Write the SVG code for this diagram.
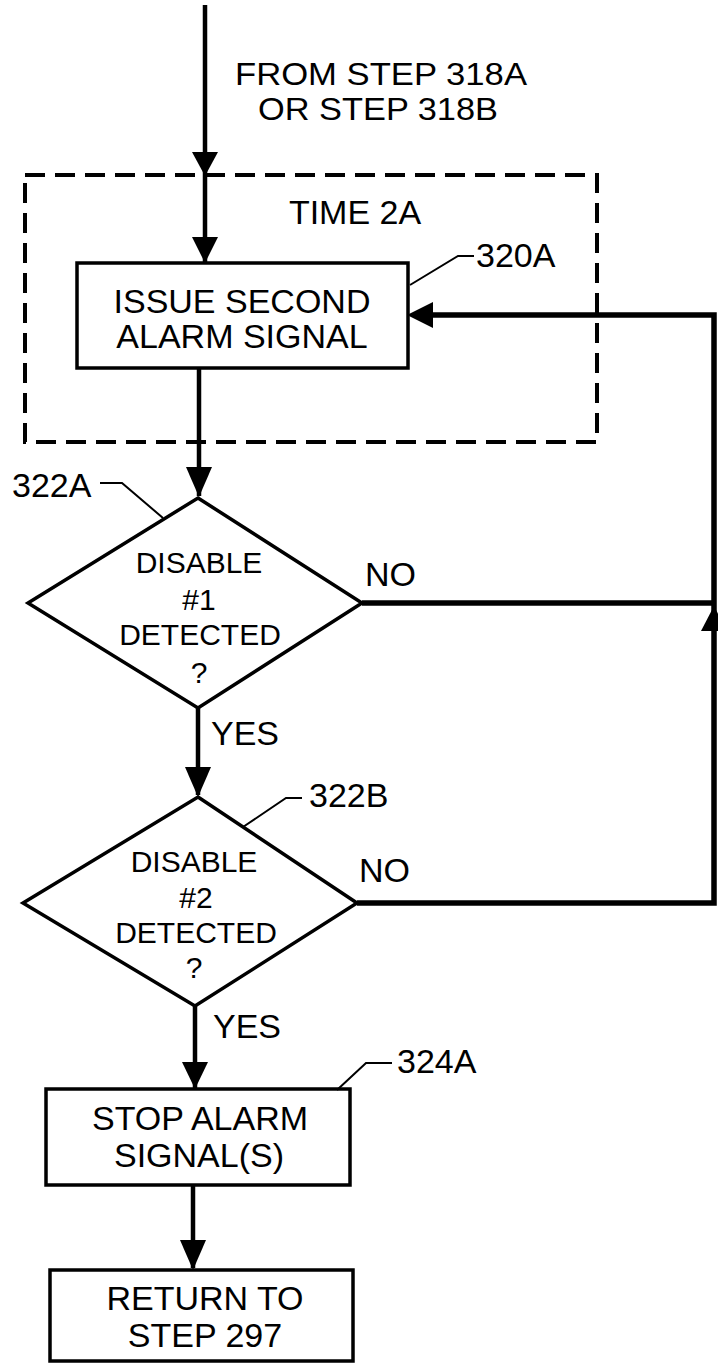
<svg xmlns="http://www.w3.org/2000/svg" width="718" height="1364" viewBox="0 0 718 1364">
<style>
text{font-family:"Liberation Sans",Arial,sans-serif;font-size:34px;fill:#000}
.c{text-anchor:middle}
.f{font-size:31px;text-anchor:middle}
.d{font-size:30px;text-anchor:middle}
.box{fill:#fff;stroke:#000;stroke-width:3.5}
.ln{fill:none;stroke:#000;stroke-width:4.5}
.fb{fill:none;stroke:#000;stroke-width:5.5}
.ld{fill:none;stroke:#000;stroke-width:2}
.ah{fill:#000;stroke:none}
.dash{fill:none;stroke:#000;stroke-width:4;stroke-dasharray:20 10}
</style>
<rect width="718" height="1364" fill="#fff"/>
<g id="group-time2a">
<rect class="dash" x="25" y="175" width="572" height="267"/>
<text class="c" x="355" y="224">TIME 2A</text>
</g>
<g id="connectors">
<path class="ln" d="M205 5 V262"/>
<polygon class="ah" points="192,152 218,152 205,176"/>
<polygon class="ah" points="192,237 218,237 205,263"/>
<path class="ln" d="M199 368 V496"/>
<polygon class="ah" points="186,467 212,467 199,497"/>
<path class="ln" d="M198 708 V795"/>
<polygon class="ah" points="185,767 211,767 198,797"/>
<path class="ln" d="M195 1006 V1088"/>
<polygon class="ah" points="182,1062 208,1062 195,1089"/>
<path class="ln" d="M193 1185 V1268"/>
<polygon class="ah" points="180,1240 206,1240 193,1270"/>
<path class="fb" d="M362 603 H714"/>
<path class="fb" d="M357 903 H714 V315 H420"/>
<polygon class="ah" points="407,315 433,302 433,328"/>
<polygon class="ah" points="714,606 701,631 727,631"/>
<text x="365" y="586">NO</text>
<text x="211" y="745">YES</text>
<text x="359" y="882">NO</text>
<text x="213" y="1038">YES</text>
</g>
<g id="label-from">
<text class="f" x="381" y="85" textLength="292" lengthAdjust="spacingAndGlyphs">FROM STEP 318A</text>
<text class="f" x="378" y="120" textLength="240" lengthAdjust="spacingAndGlyphs">OR STEP 318B</text>
</g>
<g id="node-320A">
<rect class="box" x="77" y="263" width="331" height="105"/>
<text class="c" x="242" y="313">ISSUE SECOND</text>
<text class="c" x="242" y="348">ALARM SIGNAL</text>
<path class="ld" d="M410 285 L458 256 H474"/>
<text x="476" y="267">320A</text>
</g>
<g id="node-322A">
<polygon class="box" points="198,498 362,603 198,708 28,603"/>
<text class="d" x="199" y="573">DISABLE</text>
<text class="d" x="199" y="610">#1</text>
<text class="d" x="200" y="645">DETECTED</text>
<text class="d" x="199" y="683">?</text>
<path class="ld" d="M100 483 H122 L163 518"/>
<text x="12" y="497">322A</text>
</g>
<g id="node-322B">
<polygon class="box" points="198,797 357,903 195,1006 23,903"/>
<text class="d" x="194" y="872">DISABLE</text>
<text class="d" x="196" y="908">#2</text>
<text class="d" x="196" y="943">DETECTED</text>
<text class="d" x="194" y="978">?</text>
<path class="ld" d="M243 827 L286 798 H302"/>
<text x="309" y="807">322B</text>
</g>
<g id="node-324A">
<rect class="box" x="46" y="1089" width="304" height="96"/>
<text class="c" x="200" y="1130">STOP ALARM</text>
<text class="c" x="199" y="1167">SIGNAL(S)</text>
<path class="ld" d="M337 1090 L366 1063 H392"/>
<text x="397" y="1073">324A</text>
</g>
<g id="node-return">
<rect class="box" x="50" y="1270" width="303" height="91"/>
<text class="c" x="205" y="1310">RETURN TO</text>
<text class="c" x="205" y="1347">STEP 297</text>
</g>
</svg>
